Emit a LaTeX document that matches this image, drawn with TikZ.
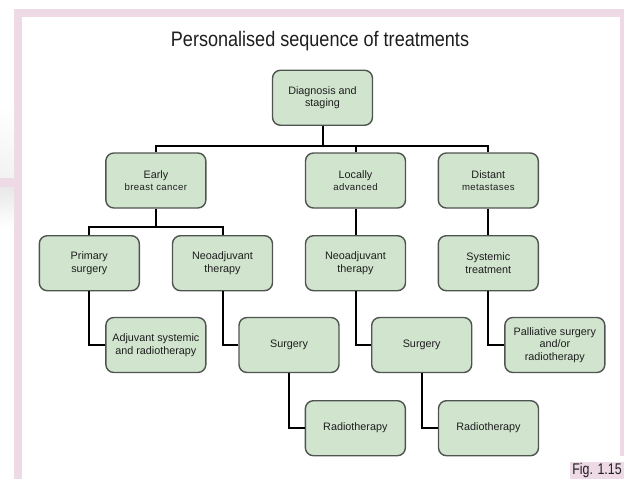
\documentclass[tikz,border=0pt]{standalone}
\usepackage{fontspec}
\setmainfont{Liberation Sans}
\newfontfamily\titlefont[FakeStretch=0.86]{Liberation Sans}
\newfontfamily\figfont[FakeStretch=0.8]{Liberation Sans}
\newfontfamily\subfont[LetterSpace=4]{Liberation Sans}
\definecolor{boxfill}{RGB}{208,228,206}
\definecolor{boxdraw}{RGB}{80,84,80}
\definecolor{framepink}{RGB}{237,218,228}
\definecolor{txt}{RGB}{30,30,30}
\newcommand{\subline}[1]{{\subfont\fontsize{9.6}{12.7}\selectfont #1}}
\begin{document}
\begin{tikzpicture}[x=1pt,y=-1pt,
  box/.style={draw=boxdraw, line width=1.4pt, fill=boxfill, rounded corners=8pt,
    minimum width=100pt, minimum height=55pt, align=center, inner sep=2pt,
    text=txt, font=\fontsize{10.8}{12.7}\selectfont},
  link/.style={line width=2pt, black}]
\useasboundingbox (0,0) rectangle (624,479);
% frame
\fill[framepink] (14,9) rectangle (624,16.5);
\fill[framepink] (14,9) rectangle (21.7,479);
\fill[framepink] (619.5,9) rectangle (624,456);
\shade[top color=white, bottom color=black!5] (0,105) rectangle (14,178.3);
\fill[framepink] (0,178.3) rectangle (14,187.3);
\shade[top color=black!9, bottom color=white] (0,187.3) rectangle (14,228);
\node[fill=framepink, minimum width=54pt, minimum height=17pt, inner sep=0pt, text=txt,
  font=\figfont\fontsize{15.5}{15.5}\selectfont] (fig) at (597,470.5) {Fig. 1.15};
% title
\node[text=txt, font=\titlefont\fontsize{21}{24}\selectfont] (title) at (320,41) {Personalised sequence of treatments};
% boxes
\node[box] (diag) at (322.5,97.75) {Diagnosis and\\staging};
\node[box] (early) at (155.85,180.5) {Early\\\subline{breast cancer}};
\node[box] (locally) at (355.5,180.5) {Locally\\\subline{advanced}};
\node[box] (distant) at (488.3,180.5) {Distant\\\subline{metastases}};
\node[box] (primary) at (89.3,263.2) {Primary\\surgery};
\node[box] (neoa) at (222.5,263.2) {Neoadjuvant\\therapy};
\node[box] (neob) at (355.5,263.2) {Neoadjuvant\\therapy};
\node[box] (systemic) at (488.3,263.2) {Systemic\\treatment};
\node[box] (adjuvant) at (155.85,345) {Adjuvant systemic\\and radiotherapy};
\node[box] (surgerya) at (289,345) {Surgery};
\node[box] (surgeryb) at (421.7,345) {Surgery};
\node[box] (palliative) at (554.85,345) {Palliative surgery\\and/or\\radiotherapy};
\node[box] (radioa) at (355.35,428.2) {Radiotherapy};
\node[box] (radiob) at (488.5,428.2) {Radiotherapy};
% connectors
\coordinate (j1) at (322.5,145.5);
\coordinate (j2) at (155.85,226.7);
\draw[link] (diag.south) -- (j1);
\draw[link] (early.north) |- (j1) -| (distant.north);
\draw[link] (locally.north) -- (locally.north |- j1);
\draw[link] (early.south) -- (j2);
\draw[link] (primary.north) |- (j2) -| (neoa.north);
\draw[link] (locally.south) -- (neob.north);
\draw[link] (distant.south) -- (systemic.north);
\draw[link] (primary.south) |- (adjuvant.west);
\draw[link] (neoa.south) |- (surgerya.west);
\draw[link] (neob.south) |- (surgeryb.west);
\draw[link] (systemic.south) |- (palliative.west);
\draw[link] (surgerya.south) |- (radioa.west);
\draw[link] (surgeryb.south) |- (radiob.west);
\end{tikzpicture}
\end{document}
